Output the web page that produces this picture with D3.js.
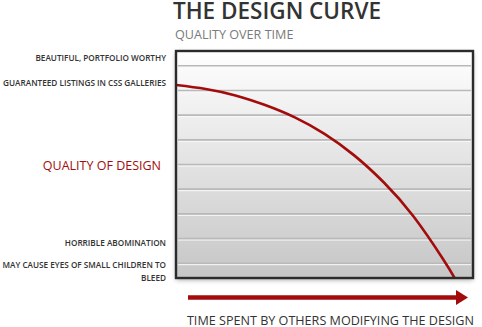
<!DOCTYPE html>
<html>
<head>
<meta charset="utf-8">
<script src="https://cdn.jsdelivr.net/npm/d3@7"></script>
<style>
  html, body { margin: 0; padding: 0; background: #fff; }
  svg { display: block; }
  text { font-family: "Open Sans", "DejaVu Sans", sans-serif; }
</style>
</head>
<body>
<svg id="chart" width="482" height="327"></svg>
<script>
// Time spent modifying (arbitrary units) and resulting design quality
const timeSpent = [0, 1, 2, 3, 4, 5, 6, 7, 8, 9, 9.4];
const quality   = [8.22, 8.06, 7.80, 7.41, 6.91, 6.24, 5.37, 4.27, 2.89, 1.15, 0.36];

// Grid levels on the quality axis
const gridLevels = [1, 2, 3, 4, 5, 6, 7, 8, 9];

// Named quality levels shown along the left side
const levelNames  = ["BEAUTIFUL, PORTFOLIO WORTHY", "GUARANTEED LISTINGS IN CSS GALLERIES", "HORRIBLE ABOMINATION", "MAY CAUSE EYES OF SMALL CHILDREN TO|BLEED"];
const levelValues = [9.3, 8.3, 1.82, 0.93];

const titleText    = "THE DESIGN CURVE";
const subtitleText = "QUALITY OVER TIME";
const yTitle       = "QUALITY OF DESIGN";
const xTitle       = "TIME SPENT BY OTHERS MODIFYING THE DESIGN";

const svg = d3.select("#chart");
const red = "#a20c0c";

const x = d3.scaleLinear().domain([0, 10]).range([176, 473]);
const y = d3.scaleLinear().domain([0.4, 9.6]).range([278, 51]);

const defs = svg.append("defs");
const grad = defs.append("linearGradient").attr("id", "bg").attr("x1", 0).attr("y1", 0).attr("x2", 0).attr("y2", 1);
grad.append("stop").attr("offset", "0%").attr("stop-color", "#ffffff");
grad.append("stop").attr("offset", "100%").attr("stop-color", "#c6c6c6");

const shadow = defs.append("filter").attr("id", "shadow").attr("x", "-10%").attr("y", "-10%").attr("width", "120%").attr("height", "120%");
shadow.append("feDropShadow").attr("dx", 0).attr("dy", 2).attr("stdDeviation", 2.5)
  .attr("flood-color", "#000").attr("flood-opacity", 0.35);

defs.append("clipPath").attr("id", "plotClip")
  .append("rect")
  .attr("x", x(0)).attr("y", y(9.6))
  .attr("width", x(10) - x(0)).attr("height", y(0.4) - y(9.6));

// Titles
svg.append("text").attr("x", 173).attr("y", 19)
  .attr("font-size", 22.5).attr("font-weight", 600).attr("fill", "#333")
  .text(titleText);
svg.append("text").attr("x", 175).attr("y", 39)
  .attr("font-size", 12.6).attr("fill", "#7a7a7a")
  .text(subtitleText);

// Plot panel
svg.append("rect")
  .attr("x", x(0)).attr("y", y(9.6))
  .attr("width", x(10) - x(0)).attr("height", y(0.4) - y(9.6))
  .attr("fill", "url(#bg)")
  .attr("filter", "url(#shadow)");

// Grid lines with a light highlight underneath
const grid = svg.append("g");
grid.selectAll("line.hl").data(gridLevels).join("line").attr("class", "hl")
  .attr("x1", x(0) + 2).attr("x2", x(10) - 2)
  .attr("y1", d => y(d) + 1.5).attr("y2", d => y(d) + 1.5)
  .attr("stroke", "#fafafa").attr("stroke-width", 1);
grid.selectAll("line.gl").data(gridLevels).join("line").attr("class", "gl")
  .attr("x1", x(0) + 2).attr("x2", x(10) - 2)
  .attr("y1", d => y(d)).attr("y2", d => y(d))
  .attr("stroke", "#b9b9b9").attr("stroke-width", 1.6);

// Quality curve
const pts = timeSpent.map((t, i) => [t, quality[i]]);
const line = d3.line().x(d => x(d[0])).y(d => y(d[1])).curve(d3.curveNatural);
svg.append("path").datum(pts)
  .attr("clip-path", "url(#plotClip)")
  .attr("d", line)
  .attr("fill", "none").attr("stroke", red).attr("stroke-width", 2.6);

// Panel border
svg.append("rect")
  .attr("x", x(0)).attr("y", y(9.6))
  .attr("width", x(10) - x(0)).attr("height", y(0.4) - y(9.6))
  .attr("fill", "none").attr("stroke", "#2b2b2b").attr("stroke-width", 2.4);

// Level labels
const labels = svg.append("g").attr("text-anchor", "end")
  .attr("font-size", 8.2).attr("font-weight", 600).attr("fill", "#333");
levelNames.forEach((name, i) => {
  const t = labels.append("text").attr("y", y(levelValues[i]) + 3);
  name.split("|").forEach((part, j) => {
    t.append("tspan").attr("x", 166).attr("dy", j === 0 ? 0 : 13.5).text(part);
  });
});

// Axis titles
svg.append("text").attr("x", 161).attr("y", y(5) + 5)
  .attr("text-anchor", "end").attr("font-size", 12.5).attr("fill", red)
  .text(yTitle);

// Time arrow
svg.append("line")
  .attr("x1", 188).attr("x2", 458).attr("y1", 297.5).attr("y2", 297.5)
  .attr("stroke", red).attr("stroke-width", 4.5);
svg.append("path")
  .attr("d", "M456,290 L468,297.5 L456,305 Z")
  .attr("fill", red);

svg.append("text").attr("x", 474).attr("y", 325)
  .attr("text-anchor", "end").attr("font-size", 12.6).attr("fill", "#333")
  .text(xTitle);
</script>
</body>
</html>
